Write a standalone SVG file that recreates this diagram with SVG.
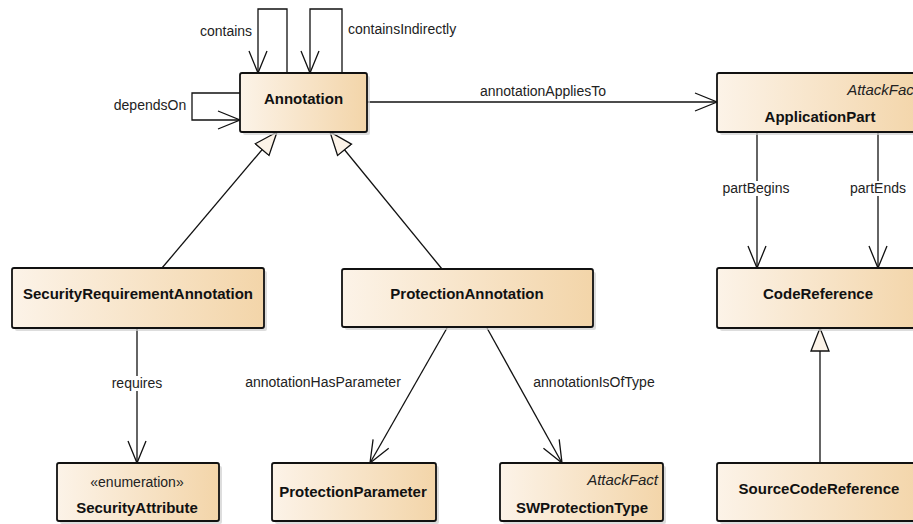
<svg xmlns="http://www.w3.org/2000/svg" width="913" height="524" viewBox="0 0 913 524">
<defs>
<linearGradient id="fill" x1="0" y1="0" x2="1" y2="0">
<stop offset="0" stop-color="#fcf3e8"/>
<stop offset="1" stop-color="#f3d5a9"/>
</linearGradient>
<marker id="open" markerUnits="userSpaceOnUse" markerWidth="26" markerHeight="22" viewBox="0 0 26 22" refX="23" refY="11" orient="auto">
<path d="M1,2 L23,11 L1,20" fill="none" stroke="#111" stroke-width="1.3"/>
</marker>
<marker id="tri" markerUnits="userSpaceOnUse" markerWidth="26" markerHeight="22" viewBox="0 0 26 22" refX="24" refY="11" orient="auto">
<path d="M1,2 L24,11 L1,20 Z" fill="#fcf3e8" stroke="#111" stroke-width="1.3"/>
</marker>
</defs>
<style>
.box{fill:url(#fill);stroke:#111;stroke-width:1.8}
.sh{fill:#cfcfcf;opacity:0.7}
.name{font-family:"Liberation Sans",Arial,sans-serif;font-size:15px;font-weight:bold;fill:#111;text-anchor:middle}
.st{font-family:"Liberation Sans",Arial,sans-serif;font-size:14px;fill:#222;text-anchor:middle}
.it{font-family:"Liberation Sans",Arial,sans-serif;font-size:15px;font-style:italic;fill:#222;text-anchor:end}
.lbl{font-family:"Liberation Sans",Arial,sans-serif;font-size:14px;fill:#222}
.c{fill:none;stroke:#111;stroke-width:1.3}
.bg{fill:#fff}
</style>

<g id="connectors">
<path class="c" d="M287,73 V9 H258 V73" marker-end="url(#open)"/>
<text class="lbl" x="226" y="36" text-anchor="middle">contains</text>
<path class="c" d="M342,73 V9 H310 V73" marker-end="url(#open)"/>
<text class="lbl" x="348" y="34">containsIndirectly</text>
<path class="c" d="M240,93 H192 V120 H240" marker-end="url(#open)"/>
<text class="lbl" x="150" y="110" text-anchor="middle">dependsOn</text>
<path class="c" d="M367,102 H717" marker-end="url(#open)"/>
<text class="lbl" x="543" y="96" text-anchor="middle">annotationAppliesTo</text>
<path class="c" d="M757,132 V268" marker-end="url(#open)"/>
<rect class="bg" x="722" y="181" width="70" height="15"/>
<text class="lbl" x="756" y="193" text-anchor="middle">partBegins</text>
<path class="c" d="M878,132 V268" marker-end="url(#open)"/>
<rect class="bg" x="848" y="181" width="60" height="15"/>
<text class="lbl" x="878" y="193" text-anchor="middle">partEnds</text>
<path class="c" d="M162,268 L277,132" marker-end="url(#tri)"/>
<path class="c" d="M442,269 L330,132" marker-end="url(#tri)"/>
<path class="c" d="M137,328 V463" marker-end="url(#open)"/>
<rect class="bg" x="108" y="376" width="58" height="15"/>
<text class="lbl" x="137" y="388" text-anchor="middle">requires</text>
<path class="c" d="M447,328 L370,463" marker-end="url(#open)"/>
<text class="lbl" x="323" y="387" text-anchor="middle">annotationHasParameter</text>
<path class="c" d="M487,328 L562,463" marker-end="url(#open)"/>
<text class="lbl" x="594" y="387" text-anchor="middle">annotationIsOfType</text>
<path class="c" d="M820,463 V328" marker-end="url(#tri)"/>
</g>

<g id="Annotation">
<rect class="sh" x="243" y="76" width="127" height="59" rx="2"/>
<rect class="box" x="240" y="73" width="127" height="59" rx="2"/>
<text class="name" x="303.5" y="104">Annotation</text>
</g>
<g id="ApplicationPart">
<rect class="sh" x="720" y="76" width="206" height="59" rx="2"/>
<rect class="box" x="717" y="73" width="206" height="59" rx="2"/>
<text class="it" x="918" y="95">AttackFact</text>
<text class="name" x="820" y="122">ApplicationPart</text>
</g>
<g id="SecurityRequirementAnnotation">
<rect class="sh" x="15" y="271" width="252" height="60" rx="2"/>
<rect class="box" x="12" y="268" width="252" height="60" rx="2"/>
<text class="name" x="138" y="299">SecurityRequirementAnnotation</text>
</g>
<g id="ProtectionAnnotation">
<rect class="sh" x="345" y="272" width="251" height="58" rx="2"/>
<rect class="box" x="342" y="269" width="251" height="58" rx="2"/>
<text class="name" x="467" y="299">ProtectionAnnotation</text>
</g>
<g id="CodeReference">
<rect class="sh" x="720" y="271" width="206" height="60" rx="2"/>
<rect class="box" x="717" y="268" width="206" height="60" rx="2"/>
<text class="name" x="818" y="299">CodeReference</text>
</g>
<g id="SecurityAttribute">
<rect class="sh" x="60" y="466" width="162" height="58" rx="2"/>
<rect class="box" x="57" y="463" width="162" height="58" rx="2"/>
<text class="st" x="137" y="487">«enumeration»</text>
<text class="name" x="137" y="513">SecurityAttribute</text>
</g>
<g id="ProtectionParameter">
<rect class="sh" x="275" y="466" width="164" height="58" rx="2"/>
<rect class="box" x="272" y="463" width="164" height="58" rx="2"/>
<text class="name" x="353" y="497">ProtectionParameter</text>
</g>
<g id="SWProtectionType">
<rect class="sh" x="503" y="466" width="163" height="58" rx="2"/>
<rect class="box" x="500" y="463" width="163" height="58" rx="2"/>
<text class="it" x="658" y="485">AttackFact</text>
<text class="name" x="582" y="513">SWProtectionType</text>
</g>
<g id="SourceCodeReference">
<rect class="sh" x="720" y="466" width="206" height="58" rx="2"/>
<rect class="box" x="717" y="463" width="206" height="58" rx="2"/>
<text class="name" x="819" y="494">SourceCodeReference</text>
</g>
</svg>
